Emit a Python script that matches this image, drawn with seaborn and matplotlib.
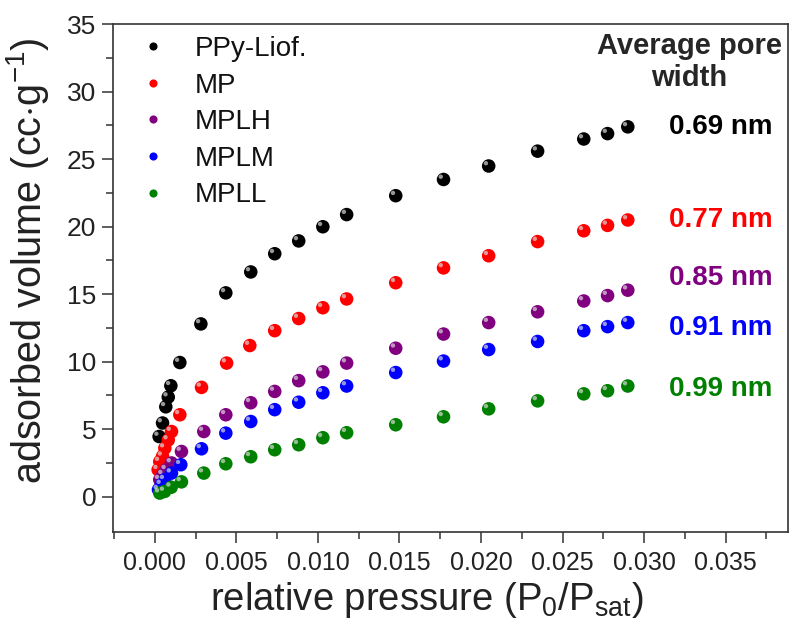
import numpy as np
import pandas as pd
import matplotlib
matplotlib.use("Agg")
import matplotlib.pyplot as plt
import matplotlib.transforms as mtransforms
import seaborn as sns

# ---- data ----
series_names = ["PPy-Liof.", "MP", "MPLH", "MPLM", "MPLL"]
pore_widths = ["0.69 nm", "0.77 nm", "0.85 nm", "0.91 nm", "0.99 nm"]
colors = ["#000000", "#ff0000", "#800080", "#0000ff", "#008000"]

hi_x = [0.00435, 0.00588, 0.00735, 0.00882, 0.0103, 0.01176, 0.01477,
        0.0177, 0.02047, 0.02347, 0.0263, 0.02776, 0.029]

ppy_x = [0.00026, 0.00047, 0.00067, 0.00082, 0.00098, 0.00153, 0.00282] + hi_x
ppy_y = [4.46, 5.46, 6.66, 7.38, 8.22, 9.94, 12.8,
         15.1, 16.65, 18.0, 18.95, 20.0, 20.9, 22.3, 23.5, 24.5, 25.6, 26.5, 26.9, 27.4]

mp_x = [0.0002, 0.0003, 0.00047, 0.00061, 0.00082, 0.00102, 0.00153, 0.00286,
        0.0044, 0.00582, 0.00735, 0.00882, 0.0103, 0.01176, 0.01477,
        0.0177, 0.02047, 0.02347, 0.0263, 0.02776, 0.029]
mp_y = [2.0, 2.6, 3.0, 3.6, 4.2, 4.83, 6.07, 8.1,
        9.9, 11.2, 12.3, 13.2, 14.0, 14.65, 15.85,
        16.95, 17.85, 18.9, 19.7, 20.1, 20.5]

mplh_x = [0.0003, 0.0005, 0.0007, 0.00102, 0.00163, 0.003] + hi_x
mplh_y = [1.26, 1.63, 2.0, 2.5, 3.35, 4.83,
          6.07, 6.96, 7.8, 8.6, 9.25, 9.9, 11.0, 12.05, 12.9, 13.7, 14.5, 14.9, 15.3]

mplm_x = [0.00022, 0.0004, 0.0006, 0.00102, 0.00159, 0.00286] + hi_x
mplm_y = [0.52, 0.9, 1.26, 1.75, 2.37, 3.55,
          4.71, 5.57, 6.45, 7.0, 7.7, 8.2, 9.2, 10.05, 10.9, 11.5, 12.3, 12.6, 12.9]

mpll_x = [0.0003, 0.0006, 0.001, 0.00163, 0.003] + hi_x
mpll_y = [0.27, 0.39, 0.7, 1.1, 1.75,
          2.44, 2.96, 3.48, 3.85, 4.37, 4.74, 5.33, 5.92, 6.51, 7.1, 7.62, 7.85, 8.2]

xs = [ppy_x, mp_x, mplh_x, mplm_x, mpll_x]
ys = [ppy_y, mp_y, mplh_y, mplm_y, mpll_y]

df = pd.concat([pd.DataFrame({"x": x, "y": y, "sample": n})
                for x, y, n in zip(xs, ys, series_names)], ignore_index=True)

# ---- style ----
sns.set_theme(style="ticks")
plt.rcParams['font.family'] = ['Liberation Sans', 'DejaVu Sans']
plt.rcParams['mathtext.fontset'] = 'custom'
plt.rcParams['mathtext.rm'] = 'Liberation Sans'
plt.rcParams['mathtext.it'] = 'Liberation Sans:italic'
plt.rcParams['mathtext.bf'] = 'Liberation Sans:bold'

fig = plt.figure(figsize=(7.9, 6.22), dpi=100)
ax = fig.add_axes([0.143, 0.145, 0.855, 0.816])

sns.scatterplot(data=df, x="x", y="y", hue="sample", palette=colors,
                hue_order=series_names, s=95, edgecolor="none", ax=ax, legend=True)

# sphere-like highlights
off = mtransforms.ScaledTranslation(-2 / 72, 2 / 72, fig.dpi_scale_trans)
for x, y in zip(xs, ys):
    ax.scatter(x, y, s=10, color="#d8d8d8", alpha=0.7, edgecolor="none",
               transform=ax.transData + off, zorder=3)

ax.set_xlim(-0.00257, 0.03885)
ax.set_ylim(-2.6, 35)
ax.set_xticks(np.arange(0, 0.0351, 0.005))
ax.set_xticks(np.arange(-0.0025, 0.0386, 0.005), minor=True)
ax.set_yticks(np.arange(0, 35.1, 5))
ax.set_yticks(np.arange(2.5, 35, 5), minor=True)
ax.xaxis.set_major_formatter(matplotlib.ticker.FormatStrFormatter('%.3f'))
ax.yaxis.set_major_formatter(matplotlib.ticker.FormatStrFormatter('%d'))
ax.tick_params(axis='x', which='major', labelsize=18, length=8, width=1.1,
               direction='out', colors='#333333', labelcolor='#222222', pad=6)
ax.tick_params(axis='y', which='major', labelsize=19, length=8, width=1.1,
               direction='out', colors='#333333', labelcolor='#222222', pad=4)
ax.tick_params(which='minor', length=5, width=1.1, direction='out', colors='#333333')
for sp in ax.spines.values():
    sp.set_color('#333333')
    sp.set_linewidth(1.2)

ax.set_xlabel(r'relative pressure (P$_0$/P$_{\mathrm{sat}}$)', fontsize=27.5,
              color='#222222')
ax.set_ylabel(r'adsorbed volume (cc$\cdot$g$^{\mathrm{-1}}$)', fontsize=28.5,
              color='#222222')
ax.xaxis.set_label_coords(0.464, -0.135, transform=ax.transAxes)
ax.yaxis.set_label_coords(-0.126, 0.535, transform=ax.transAxes)
ax.xaxis.label.set_va('center')
ax.yaxis.label.set_va('center')

leg = ax.legend(loc='upper left', bbox_to_anchor=(0.0, 1.015), frameon=False,
                fontsize=20, markerscale=0.6, handletextpad=0.75,
                labelspacing=0.38, borderaxespad=0.3, handlelength=1.5)
for t in leg.get_texts():
    t.set_color('#111111')

ax.text(0.853, 0.985, "Average pore\nwidth", transform=ax.transAxes, ha='center',
        va='top', fontsize=21, fontweight='bold', linespacing=1.2)
label_y = [ppy_y[-1], mp_y[-1], mplh_y[-1] + 0.9, mplm_y[-1] - 0.4, mpll_y[-1] - 0.2]
for lbl, ly, c in zip(pore_widths, label_y, colors):
    ax.text(0.9, ly, lbl, transform=ax.get_yaxis_transform(), ha='center', va='center',
            fontsize=20, fontweight='bold', color=c)

fig.savefig("out.png", dpi=100)
